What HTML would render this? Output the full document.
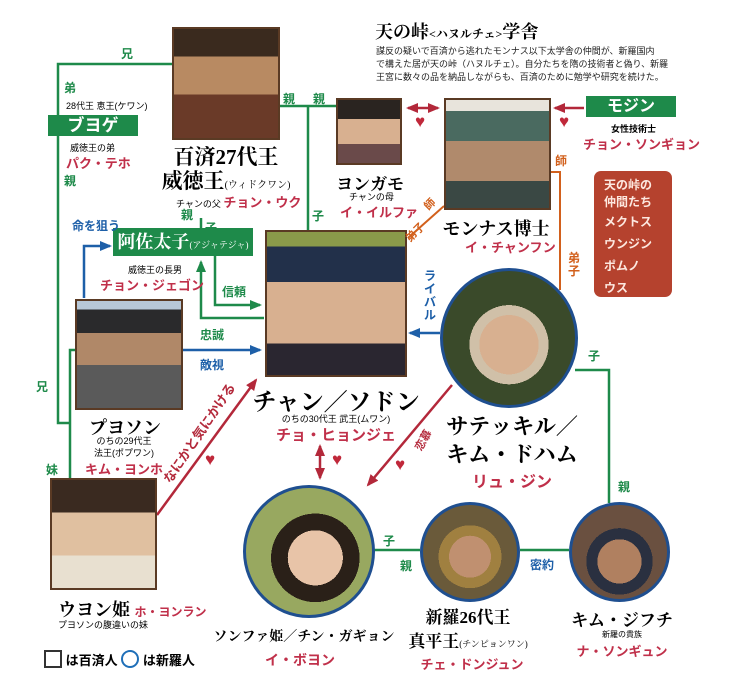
<!DOCTYPE html>
<html><head><meta charset="utf-8"><style>
body{margin:0;width:750px;height:692px;background:#fff;position:relative;overflow:hidden;font-family:"Liberation Sans","Noto Sans CJK JP",sans-serif}
.a{position:absolute;white-space:nowrap}
.s{font-family:"Liberation Serif","Noto Serif CJK SC",serif;font-weight:bold}
.g{color:#1e8a4a;font-weight:bold;font-size:12px}
.b{color:#1d5fa8;font-weight:bold;font-size:12px}
.r{color:#c0304a;font-weight:bold}
.ph{position:absolute;border:2px solid #5a3a24;box-sizing:border-box}
.ci{position:absolute;border:3px solid #1f4f90;border-radius:50%;box-sizing:border-box}
.gb{position:absolute;background:#1e8a4a;color:#fff;font-weight:bold;text-align:center}
.c{text-align:center;transform:translateX(-50%)}
</style></head><body>
<svg width="750" height="692" style="position:absolute;left:0;top:0">
<defs>
<marker id="ag" markerUnits="userSpaceOnUse" markerWidth="12" markerHeight="10" refX="10" refY="5" orient="auto"><path d="M0,0L12,5L0,10z" fill="#1e8a4a"/></marker>
<marker id="ab" markerUnits="userSpaceOnUse" markerWidth="12" markerHeight="10" refX="10" refY="5" orient="auto"><path d="M0,0L12,5L0,10z" fill="#1d5fa8"/></marker>
<marker id="ar" markerUnits="userSpaceOnUse" markerWidth="12" markerHeight="10" refX="10" refY="5" orient="auto"><path d="M0,0L12,5L0,10z" fill="#b3283a"/></marker>
<marker id="ars" markerUnits="userSpaceOnUse" markerWidth="12" markerHeight="10" refX="2" refY="5" orient="auto"><path d="M12,0L0,5L12,10z" fill="#b3283a"/></marker>
</defs>
<g stroke="#1e8a4a" stroke-width="2.5" fill="none">
<path d="M172,64H58V423H70"/>
<path d="M75,350H70V478"/>
<path d="M280,106H336M308,106V230"/>
<path d="M201,218V228"/>
<path d="M215,256V305H260" marker-end="url(#ag)"/>
<path d="M264,318H201V262" marker-end="url(#ag)"/>
<path d="M575,370H609V503"/>
<path d="M373,550H420M520,550H569"/>
</g>
<g stroke="#1d5fa8" stroke-width="2.5" fill="none">
<path d="M84,298V246H110" marker-end="url(#ab)"/>
<path d="M183,350H260" marker-end="url(#ab)"/>
<path d="M440,333H410" marker-end="url(#ab)"/>
</g>
<g stroke="#b3283a" stroke-width="2.5" fill="none">
<path d="M157,515L256,380" marker-end="url(#ar)"/>
<path d="M452,385L368,485" marker-end="url(#ar)"/>
<path d="M408,108H438" marker-start="url(#ars)" marker-end="url(#ar)"/>
<path d="M584,108H555" marker-end="url(#ar)"/>
<path d="M320,446V478" marker-start="url(#ars)" marker-end="url(#ar)"/>
</g>
<g stroke="#d2601c" stroke-width="2" fill="none">
<path d="M444,206L408,238"/>
<path d="M551,172H560V290"/>
</g>
</svg>

<div class="a s" style="left:375px;top:18px;font-size:18px">天の峠<span style="font-size:12px">&lt;ハヌルチェ&gt;</span>学舎</div>
<div class="a" style="left:376px;top:45px;font-size:9px;line-height:13px;color:#222">謀反の疑いで百済から逃れたモンナス以下太学舎の仲間が、新羅国内<br>で構えた居が天の峠（ハヌルチェ）。自分たちを隋の技術者と偽り、新羅<br>王宮に数々の品を納品しながらも、百済のために勉学や研究を続けた。</div>

<div class="ph" style="left:172px;top:27px;width:108px;height:113px;background:linear-gradient(#3a2a1e 0 25%,#b88a62 25% 60%,#6a3a28 60%)"></div>
<div class="ph" style="left:336px;top:98px;width:66px;height:67px;background:linear-gradient(#2a2420 0 30%,#d8b090 30% 70%,#6a4a4a 70%)"></div>
<div class="ph" style="left:444px;top:98px;width:107px;height:112px;background:linear-gradient(#e8e4dc 0 10%,#4a6a60 10% 38%,#b08a6c 38% 75%,#3a4844 75%)"></div>
<div class="ph" style="left:265px;top:230px;width:142px;height:147px;background:linear-gradient(#8a9a4a 0 10%,#22304a 10% 35%,#d8b090 35% 78%,#2a2630 78%)"></div>
<div class="ph" style="left:75px;top:299px;width:108px;height:111px;background:linear-gradient(#b8c8d8 0 8%,#2a2a2c 8% 30%,#b08868 30% 60%,#5a5a5a 60%)"></div>
<div class="ph" style="left:50px;top:478px;width:107px;height:112px;background:linear-gradient(#3a2a20 0 30%,#e0c0a0 30% 70%,#e8e0d0 70%)"></div>
<div class="ci" style="left:440px;top:268px;width:138px;height:140px;background:radial-gradient(circle at 50% 55%,#d8b090 0 30%,#d0c0a8 30% 40%,#3a4a2a 40%)"></div>
<div class="ci" style="left:243px;top:485px;width:132px;height:133px;background:radial-gradient(circle at 55% 55%,#e8c4a8 0 28%,#2a2018 28% 45%,#98a860 45%)"></div>
<div class="ci" style="left:420px;top:502px;width:100px;height:100px;background:radial-gradient(circle at 50% 55%,#c09070 0 30%,#a08040 30% 45%,#6a5a3a 45%)"></div>
<div class="ci" style="left:569px;top:502px;width:101px;height:100px;background:radial-gradient(circle at 50% 60%,#b08060 0 30%,#2a3040 30% 45%,#6a5040 45%)"></div>

<div class="gb" style="left:48px;top:115px;width:90px;height:21px;font-size:17px;line-height:21px">ブヨゲ</div>
<div class="gb s" style="left:113px;top:228px;width:140px;height:28px;font-size:18px;line-height:28px">阿佐太子<span style="font-size:9px;font-weight:normal">(アジャテジャ)</span></div>
<div class="gb" style="left:586px;top:96px;width:90px;height:21px;font-size:16px;line-height:21px">モジン</div>
<div class="a" style="left:594px;top:171px;width:78px;height:126px;background:#b5422e;border-radius:7px;color:#fde8e0;font-size:12px;font-weight:bold;line-height:17px;padding:6px 0 0 10px;box-sizing:border-box;white-space:normal">天の峠の<br>仲間たち<br><span style="line-height:22px">メクトス<br>ウンジン<br>ポムノ<br>ウス</span></div>

<div class="a g" style="left:121px;top:45px">兄</div>
<div class="a g" style="left:64px;top:79px">弟</div>
<div class="a" style="left:66px;top:99px;font-size:9px">28代王 恵王(ケワン)</div>
<div class="a" style="left:70px;top:141px;font-size:9px">威徳王の弟</div>
<div class="a r" style="left:66px;top:153px;font-size:13px">パク・テホ</div>
<div class="a g" style="left:64px;top:172px">親</div>
<div class="a g" style="left:283px;top:90px">親</div>
<div class="a g" style="left:313px;top:90px">親</div>
<div class="a g" style="left:181px;top:206px">親</div>
<div class="a g" style="left:205px;top:219px">子</div>
<div class="a g" style="left:312px;top:207px">子</div>
<div class="a b" style="left:72px;top:217px">命を狙う</div>
<div class="a" style="left:128px;top:263px;font-size:9px">威徳王の長男</div>
<div class="a r" style="left:100px;top:275px;font-size:13px">チョン・ジェゴン</div>
<div class="a g" style="left:222px;top:283px">信頼</div>
<div class="a g" style="left:200px;top:326px">忠誠</div>
<div class="a b" style="left:200px;top:356px">敵視</div>
<div class="a g" style="left:36px;top:378px">兄</div>
<div class="a g" style="left:46px;top:461px">妹</div>
<div class="a g" style="left:383px;top:532px">子</div>
<div class="a g" style="left:400px;top:557px">親</div>
<div class="a b" style="left:530px;top:556px">密約</div>
<div class="a g" style="left:588px;top:347px">子</div>
<div class="a g" style="left:618px;top:478px">親</div>
<div class="a b" style="left:424px;top:270px;width:14px;font-size:12px;line-height:13px;white-space:normal">ライバル</div>
<div class="a" style="left:555px;top:152px;color:#d2601c;font-weight:bold;font-size:12px">師</div>
<div class="a" style="left:568px;top:252px;color:#d2601c;font-weight:bold;font-size:12px;width:13px;white-space:normal;line-height:13px">弟子</div>
<div class="a" style="left:424px;top:196px;color:#d2601c;font-weight:bold;font-size:11px;transform:rotate(-45deg)">師</div>
<div class="a" style="left:404px;top:224px;color:#d2601c;font-weight:bold;font-size:11px;transform:rotate(-45deg)">弟子</div>
<div class="a" style="left:140px;top:423px;color:#b3283a;font-weight:bold;font-size:13px;transform:rotate(-56deg)">なにかと気にかける</div>
<div class="a" style="left:412px;top:432px;color:#b3283a;font-weight:bold;font-size:11px;transform:rotate(-60deg)">恋慕</div>

<div class="a" style="left:415px;top:112px;color:#c0283a;font-size:17px">♥</div>
<div class="a" style="left:559px;top:112px;color:#c0283a;font-size:17px">♥</div>
<div class="a" style="left:205px;top:450px;color:#c0283a;font-size:17px">♥</div>
<div class="a" style="left:332px;top:450px;color:#c0283a;font-size:17px">♥</div>
<div class="a" style="left:395px;top:455px;color:#c0283a;font-size:17px">♥</div>

<div class="a s c" style="left:226px;top:145px;font-size:21px;line-height:24px">百済27代王<br>威徳王<span style="font-size:10px;font-weight:normal">(ウィドクワン)</span></div>
<div class="a" style="left:176px;top:192px;font-size:9px">チャンの父 <span class="r" style="font-size:13px">チョン・ウク</span></div>
<div class="a s c" style="left:370px;top:170px;font-size:17px">ヨンガモ</div>
<div class="a" style="left:349px;top:190px;font-size:9px">チャンの母</div>
<div class="a r" style="left:340px;top:202px;font-size:13px">イ・イルファ</div>
<div class="a s c" style="left:496px;top:215px;font-size:18px">モンナス博士</div>
<div class="a r" style="left:465px;top:237px;font-size:13px">イ・チャンフン</div>
<div class="a" style="left:611px;top:122px;font-size:9px;font-weight:bold">女性技術士</div>
<div class="a r" style="left:583px;top:134px;font-size:13px">チョン・ソンギョン</div>
<div class="a s c" style="left:336px;top:382px;font-size:24px">チャン／ソドン</div>
<div class="a c" style="left:336px;top:412px;font-size:9px">のちの30代王 武王(ムワン)</div>
<div class="a r c" style="left:336px;top:424px;font-size:15px">チョ・ヒョンジェ</div>
<div class="a s c" style="left:512px;top:413px;font-size:22px;line-height:28px">サテッキル／<br>キム・ドハム</div>
<div class="a r c" style="left:512px;top:468px;font-size:16px">リュ・ジン</div>
<div class="a s c" style="left:125px;top:414px;font-size:18px">プヨソン</div>
<div class="a c" style="left:124px;top:435px;font-size:9px;line-height:12px">のちの29代王<br>法王(ポプワン)</div>
<div class="a r c" style="left:124px;top:459px;font-size:13px">キム・ヨンホ</div>
<div class="a s" style="left:58px;top:596px;font-size:18px">ウヨン姫 <span class="r" style="font-size:12px;font-family:'Liberation Sans','Noto Sans CJK JP',sans-serif">ホ・ヨンラン</span></div>
<div class="a" style="left:58px;top:618px;font-size:9px">プヨソンの腹違いの妹</div>
<div class="a" style="left:44px;top:650px;font-size:13px;font-weight:bold"><span style="display:inline-block;width:14px;height:14px;border:2px solid #333;vertical-align:-3px"></span> は百済人 <span style="display:inline-block;width:14px;height:14px;border:2px solid #1f6fb8;border-radius:50%;vertical-align:-3px"></span> は新羅人</div>
<div class="a s c" style="left:304px;top:626px;font-size:14px">ソンファ姫／チン・ガギョン</div>
<div class="a r c" style="left:300px;top:650px;font-size:14px">イ・ボヨン</div>
<div class="a s c" style="left:468px;top:606px;font-size:17px;line-height:24px">新羅26代王<br>真平王<span style="font-size:9px;font-weight:normal">(チンピョンワン)</span></div>
<div class="a r c" style="left:472px;top:654px;font-size:13px">チェ・ドンジュン</div>
<div class="a s c" style="left:622px;top:606px;font-size:17px">キム・ジフチ</div>
<div class="a c" style="left:622px;top:629px;font-size:8px">新羅の貴族</div>
<div class="a r c" style="left:622px;top:641px;font-size:13px">ナ・ソンギュン</div>
</body></html>
